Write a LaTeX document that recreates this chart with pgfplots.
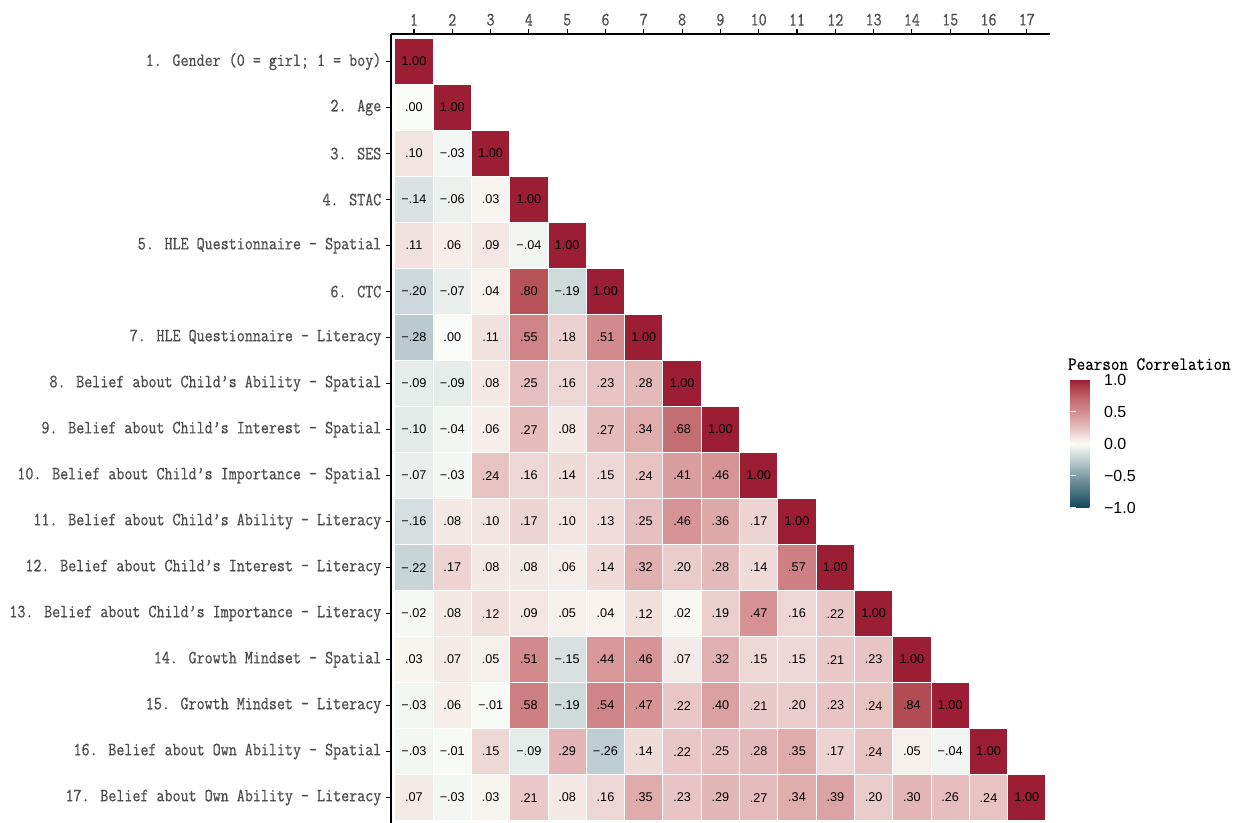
\documentclass[border=0pt]{standalone}
\usepackage{pgfplots}
\pgfplotsset{compat=1.18}
\usepackage{pgfplotstable}
\usepackage{fontspec}
\setmainfont{Liberation Sans}
\newfontfamily\labfont[FakeStretch=0.835,FakeBold=0.6]{Latin Modern Mono}
\newfontfamily\titfont[FakeStretch=0.89,FakeBold=0.6]{Latin Modern Mono}
\newfontfamily\cellfont{Liberation Sans}
\definecolor{grey30}{HTML}{4D4D4D}
\pgfdeclareplotmark{cell}{\pgfpathrectangle{\pgfpoint{-14.36pt}{-17.25pt}}{\pgfpoint{28.72pt}{34.5pt}}\pgfusepathqfillstroke}

% y = 18 - row number
\pgfplotstableread{
x y v lab
1 17 1.00 1.00
1 16 0.00 .00
2 16 1.00 1.00
1 15 0.10 .10
2 15 -0.03 −.03
3 15 1.00 1.00
1 14 -0.14 −.14
2 14 -0.06 −.06
3 14 0.03 .03
4 14 1.00 1.00
1 13 0.11 .11
2 13 0.06 .06
3 13 0.09 .09
4 13 -0.04 −.04
5 13 1.00 1.00
1 12 -0.20 −.20
2 12 -0.07 −.07
3 12 0.04 .04
4 12 0.80 .80
5 12 -0.19 −.19
6 12 1.00 1.00
1 11 -0.28 −.28
2 11 0.00 .00
3 11 0.11 .11
4 11 0.55 .55
5 11 0.18 .18
6 11 0.51 .51
7 11 1.00 1.00
1 10 -0.09 −.09
2 10 -0.09 −.09
3 10 0.08 .08
4 10 0.25 .25
5 10 0.16 .16
6 10 0.23 .23
7 10 0.28 .28
8 10 1.00 1.00
1 9 -0.10 −.10
2 9 -0.04 −.04
3 9 0.06 .06
4 9 0.27 .27
5 9 0.08 .08
6 9 0.27 .27
7 9 0.34 .34
8 9 0.68 .68
9 9 1.00 1.00
1 8 -0.07 −.07
2 8 -0.03 −.03
3 8 0.24 .24
4 8 0.16 .16
5 8 0.14 .14
6 8 0.15 .15
7 8 0.24 .24
8 8 0.41 .41
9 8 0.46 .46
10 8 1.00 1.00
1 7 -0.16 −.16
2 7 0.08 .08
3 7 0.10 .10
4 7 0.17 .17
5 7 0.10 .10
6 7 0.13 .13
7 7 0.25 .25
8 7 0.46 .46
9 7 0.36 .36
10 7 0.17 .17
11 7 1.00 1.00
1 6 -0.22 −.22
2 6 0.17 .17
3 6 0.08 .08
4 6 0.08 .08
5 6 0.06 .06
6 6 0.14 .14
7 6 0.32 .32
8 6 0.20 .20
9 6 0.28 .28
10 6 0.14 .14
11 6 0.57 .57
12 6 1.00 1.00
1 5 -0.02 −.02
2 5 0.08 .08
3 5 0.12 .12
4 5 0.09 .09
5 5 0.05 .05
6 5 0.04 .04
7 5 0.12 .12
8 5 0.02 .02
9 5 0.19 .19
10 5 0.47 .47
11 5 0.16 .16
12 5 0.22 .22
13 5 1.00 1.00
1 4 0.03 .03
2 4 0.07 .07
3 4 0.05 .05
4 4 0.51 .51
5 4 -0.15 −.15
6 4 0.44 .44
7 4 0.46 .46
8 4 0.07 .07
9 4 0.32 .32
10 4 0.15 .15
11 4 0.15 .15
12 4 0.21 .21
13 4 0.23 .23
14 4 1.00 1.00
1 3 -0.03 −.03
2 3 0.06 .06
3 3 -0.01 −.01
4 3 0.58 .58
5 3 -0.19 −.19
6 3 0.54 .54
7 3 0.47 .47
8 3 0.22 .22
9 3 0.40 .40
10 3 0.21 .21
11 3 0.20 .20
12 3 0.23 .23
13 3 0.24 .24
14 3 0.84 .84
15 3 1.00 1.00
1 2 -0.03 −.03
2 2 -0.01 −.01
3 2 0.15 .15
4 2 -0.09 −.09
5 2 0.29 .29
6 2 -0.26 −.26
7 2 0.14 .14
8 2 0.22 .22
9 2 0.25 .25
10 2 0.28 .28
11 2 0.35 .35
12 2 0.17 .17
13 2 0.24 .24
14 2 0.05 .05
15 2 -0.04 −.04
16 2 1.00 1.00
1 1 0.07 .07
2 1 -0.03 −.03
3 1 0.03 .03
4 1 0.21 .21
5 1 0.08 .08
6 1 0.16 .16
7 1 0.35 .35
8 1 0.23 .23
9 1 0.29 .29
10 1 0.27 .27
11 1 0.34 .34
12 1 0.39 .39
13 1 0.20 .20
14 1 0.30 .30
15 1 0.26 .26
16 1 0.24 .24
17 1 1.00 1.00
}\corr

\begin{document}
\begin{tikzpicture}
\begin{axis}[
  at={(293.25pt,-25.5pt)}, anchor=north west,
  scale only axis, width=494.1pt, height=593.4pt,
  xmin=0.4, xmax=17.6, ymin=0.4, ymax=17.6,
  axis x line*=top, axis y line*=left,
  axis line style={line width=1pt, black},
  xtick={1,2,3,4,5,6,7,8,9,10,11,12,13,14,15,16,17},
  ytick={1,2,3,4,5,6,7,8,9,10,11,12,13,14,15,16,17},
  xticklabels={1,2,3,4,5,6,7,8,9,10,11,12,13,14,15,16,17},
  yticklabels={
    17. Belief about Own Ability – Literacy,
    16. Belief about Own Ability – Spatial,
    15. Growth Mindset – Literacy,
    14. Growth Mindset – Spatial,
    13. Belief about Child’s Importance – Literacy,
    12. Belief about Child’s Interest – Literacy,
    11. Belief about Child’s Ability – Literacy,
    10. Belief about Child’s Importance – Spatial,
    9. Belief about Child’s Interest – Spatial,
    8. Belief about Child’s Ability – Spatial,
    7. HLE Questionnaire – Literacy,
    6. CTC,
    5. HLE Questionnaire – Spatial,
    4. STAC,
    3. SES,
    2. Age,
    1. Gender (0 = girl; 1 = boy)},
  tick align=outside, major tick length=3.75pt,
  major tick style={line width=0.8pt, black},
  xticklabel style={font=\labfont\fontsize{14}{15}\selectfont, text=grey30, yshift=-1pt},
  yticklabel style={font=\labfont\fontsize{14}{15}\selectfont, text=grey30},
  colormap={corr}{rgb255(0cm)=(16,72,92); rgb255(50cm)=(128,157,166); rgb255(72cm)=(186,202,206); rgb255(100cm)=(250,252,247); rgb255(128cm)=(228,185,185); rgb255(150cm)=(212,140,142); rgb255(168cm)=(196,110,115); rgb255(184cm)=(178,75,82); rgb255(200cm)=(155,30,52)},
  point meta min=-1, point meta max=1,
  colorbar,
  colorbar style={
    at={(parent axis.north east)}, anchor=north west,
    xshift=7pt, yshift=-259.3pt,
    scale only axis,
    width=19pt, height=96pt,
    ytick={-1,-0.5,0,0.5,1},
    yticklabels={−1.0,−0.5,0.0,0.5,1.0},
    ytick pos=both,
    yticklabel pos=right,
    tick align=inside,
    major tick length=3.75pt,
    major tick style={white, line width=0.8pt},
    axis line style={draw=none},
    yticklabel style={font=\cellfont\fontsize{12}{12}\selectfont, text=black, inner sep=0pt, anchor=west, xshift=6pt},
    title={Pearson Correlation},
    title style={font=\titfont\fontsize{14}{14}\selectfont, text=black, anchor=south west, at={(0,1)}, inner sep=0pt, xshift=-2pt, yshift=1pt},
  },
  clip=false,
]
\addplot[scatter, only marks, mark=cell, line width=0.75pt,
  point meta=\thisrow{v},
  scatter/use mapped color={draw=white, fill=mapped color}]
  table[x=x, y=y]{\corr};
\addplot[draw=none, mark=none,
  point meta=explicit symbolic,
  nodes near coords,
  nodes near coords align=center,
  every node near coord/.append style={anchor=center, inner sep=0pt, font=\cellfont\fontsize{9.5}{9.5}\selectfont, text=black}]
  table[x=x, y=y, meta=lab]{\corr};
\end{axis}
\pgfresetboundingbox
\path[use as bounding box] (0,0) rectangle (925.5pt,-617.25pt);
\end{tikzpicture}
\end{document}
